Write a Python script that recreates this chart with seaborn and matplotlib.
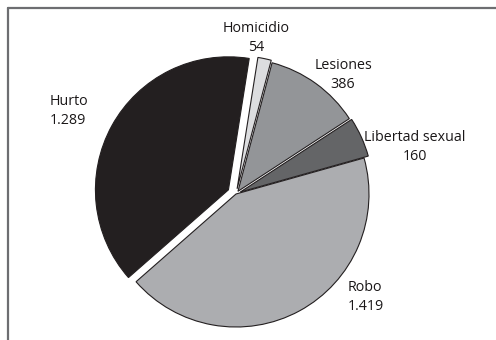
import matplotlib
matplotlib.use("Agg")
import matplotlib.pyplot as plt
from matplotlib.lines import Line2D
import seaborn as sns

# Delitos registrados por tipo
categorias = ["Homicidio", "Lesiones", "Libertad sexual", "Robo", "Hurto"]
valores = [54, 386, 160, 1419, 1289]
etiquetas_valor = ["54", "386", "160", "1.419", "1.289"]

colores = ["#dcdddf", "#939598", "#646567", "#acadb0", "#231f20"]
# desplazamiento de cada porción, como fracción del radio
separacion = [0.04, 0.025, 0.035, 0.0, 0.065]

sns.set_theme(style="white")
plt.rcParams["font.family"] = ["Open Sans", "DejaVu Sans"]

fig = plt.figure(figsize=(4.96, 3.40), dpi=100)
ax = fig.add_axes([0, 0, 1, 1])

radio = 133
ax.pie(
    valores,
    colors=colores,
    explode=[s * radio for s in separacion],
    startangle=81,
    counterclock=False,
    center=(236, 146),
    radius=radio,
    wedgeprops=dict(edgecolor="#231f20", linewidth=0.8),
    frame=False,
)
ax.set_xlim(0, 496)
ax.set_ylim(0, 340)
ax.set_aspect("equal")
ax.axis("off")

# Rótulos: nombre y valor de cada categoría
rotulos = {
    "Homicidio": (256, 302, "center"),
    "Lesiones": (343, 265, "center"),
    "Libertad sexual": (415, 193, "center"),
    "Robo": (348, 43, "left"),
    "Hurto": (50, 229, "left"),
}
for cat, val in zip(categorias, etiquetas_valor):
    x, y, ha = rotulos[cat]
    ax.text(x, y, f"{cat}\n{val}", ha=ha, va="center", fontsize=10.3,
            color="#1a1718", linespacing=1.3,
            multialignment="center" if ha == "center" else "left")

# Marco superior e izquierdo
fig.add_artist(Line2D([8 / 496, 1], [1 - 8 / 340, 1 - 8 / 340], transform=fig.transFigure,
                      color="#6d6e71", linewidth=1.6))
fig.add_artist(Line2D([8 / 496, 8 / 496], [0, 1 - 8 / 340], transform=fig.transFigure,
                      color="#6d6e71", linewidth=1.6))

fig.savefig("out.png", dpi=100, facecolor="white")
